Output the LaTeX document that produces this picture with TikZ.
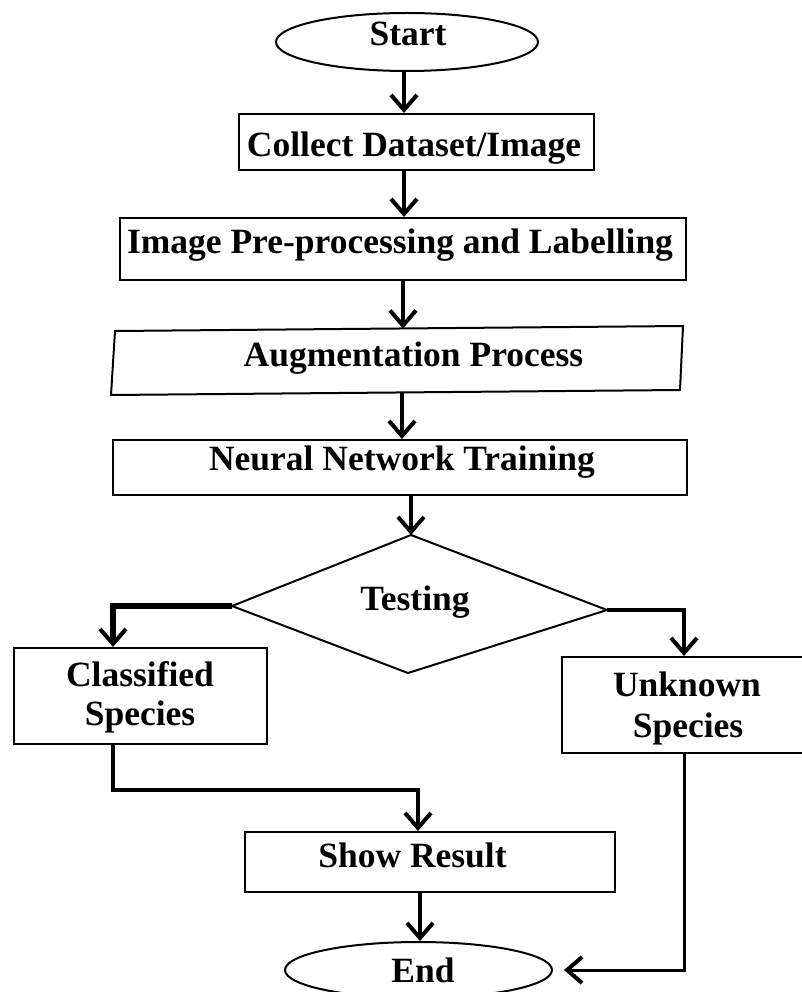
\documentclass[tikz,border=0pt]{standalone}
\usepackage{fontspec}
\setmainfont{Liberation Serif}
\usetikzlibrary{arrows.meta,shapes.geometric}
\begin{document}
\begin{tikzpicture}[x=1pt,y=-1pt,
  boxline/.style={draw=black, line width=2pt},
  stepbox/.style={boxline, rectangle, inner sep=0pt},
  oval/.style={boxline, ellipse, inner sep=0pt},
  lbl/.style={font=\fontsize{35.5}{40}\selectfont\bfseries, anchor=base, inner sep=0pt},
  arr/.style={line width=4pt, -{Straight Barb[length=15pt,width=26pt]}},
  arrthick/.style={line width=5.5pt, -{Straight Barb[length=15pt,width=26pt,line width=4pt]}},
  arrthin/.style={line width=3pt, -{Straight Barb[length=15pt,width=26pt,line width=4pt]}}
]
\useasboundingbox (0,0) rectangle (801,992);

% ---- shapes
\node[oval, minimum width=262pt, minimum height=58pt] (start) at (407,42) {};
\node[stepbox, minimum width=355pt, minimum height=56pt] (collect) at (416.5,142) {};
\node[stepbox, minimum width=566pt, minimum height=62pt] (pre) at (403,249) {};
\coordinate (augTL) at (115,331);
\coordinate (augTR) at (683,326);
\coordinate (augBR) at (680,390);
\coordinate (augBL) at (111,395);
\draw[boxline] (augTL) -- (augTR) -- (augBR) -- (augBL) -- cycle;
\coordinate (augT) at (403,328.5);
\coordinate (augB) at (402,392.4);
\node[stepbox, minimum width=574pt, minimum height=55pt] (nn) at (400,467.5) {};
\coordinate (dT) at (411,535);
\coordinate (dL) at (232,606);
\coordinate (dR) at (607,610);
\coordinate (dB) at (408,673);
\draw[boxline] (dT) -- (dR) -- (dB) -- (dL) -- cycle;
\node[stepbox, minimum width=253pt, minimum height=96pt] (cls) at (140.5,696) {};
\node[stepbox, minimum width=242pt, minimum height=96pt] (unk) at (683,705) {};
\node[stepbox, minimum width=370pt, minimum height=60pt] (show) at (430,862) {};
\node[oval, minimum width=267pt, minimum height=56pt] (end) at (418.5,970) {};

% ---- texts
\node[lbl] (tstart) at (408,46) {Start};
\node[lbl] (tcollect) at (414,157) {Collect Dataset/Image};
\node[lbl] (tpre) at (400,253) {Image Pre-processing and Labelling};
\node[lbl] (taug) at (413.5,366) {Augmentation Process};
\node[lbl] (tnn) at (402,470) {Neural Network Training};
\node[lbl] (ttest) at (415,610) {Testing};
\node[lbl] (tcls1) at (140,686) {Classified};
\node[lbl] (tcls2) at (140,725) {Species};
\node[lbl] (tunk1) at (687,696) {Unknown};
\node[lbl] (tunk2) at (688,737) {Species};
\node[lbl] (tshow) at (412.5,867) {Show Result};
\node[lbl] (tend) at (423,982) {End};

% ---- connectors
\coordinate (x404) at (404,0);
\coordinate (x403) at (403,0);
\coordinate (x402) at (402,0);
\coordinate (x113) at (113,0);
\coordinate (x684) at (684,0);
\coordinate (x420) at (420,0);
\coordinate (k1) at (418,790);
\draw[arr] (x404 |- start.south) -- (x404 |- collect.north);
\draw[arr] (x404 |- collect.south) -- (x404 |- pre.north);
\draw[arr] (x403 |- pre.south) -- (augT);
\draw[arr] (augB) -- (x402 |- nn.north);
\draw[arr] (dT |- nn.south) -- (dT);
\draw[arrthick] (dL) -| (x113 |- cls.north);
\draw[arr] (dR) -| (x684 |- unk.north);
\draw[arr] (x113 |- cls.south) |- (k1) -- (k1 |- show.north);
\draw[arr] (x420 |- show.south) -- (x420 |- end.north);
\draw[arrthin] (x684 |- unk.south) |- ([xshift=11pt]end.east);
\end{tikzpicture}
\end{document}
